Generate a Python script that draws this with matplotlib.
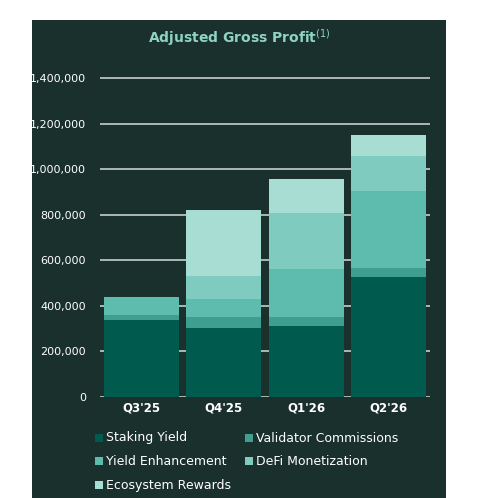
import numpy as np
import matplotlib.pyplot as plt
from matplotlib.patches import Rectangle

quarters = ["Q3'25", "Q4'25", "Q1'26", "Q2'26"]
staking = [338000, 304000, 311000, 526000]
validator = [22000, 48000, 41000, 42000]
yield_enh = [80000, 78000, 212000, 335000]
defi = [0, 103000, 245000, 157000]
ecosystem = [0, 288000, 149000, 92000]

series = [
    ("Staking Yield", staking, "#005a4e"),
    ("Validator Commissions", validator, "#3f9f8f"),
    ("Yield Enhancement", yield_enh, "#5dbcae"),
    ("DeFi Monetization", defi, "#80cbbf"),
    ("Ecosystem Rewards", ecosystem, "#a8ddd3"),
]

W, H = 482, 498
fig = plt.figure(figsize=(W / 100, H / 100), dpi=100)
fig.patch.set_facecolor("white")
bg = "#1a302c"
fig.patches.append(Rectangle((32 / W, 0), (446 - 32) / W, (498 - 20) / H,
                             transform=fig.transFigure, facecolor=bg, zorder=-1))

ax = fig.add_axes([100 / W, 1 - 397 / H, 330 / W, 320 / H])
ax.set_facecolor(bg)
x = np.arange(len(quarters))
bottom = np.zeros(len(quarters))
for name, vals, col in series:
    ax.bar(x, vals, 0.91, bottom=bottom, color=col, zorder=3)
    bottom += np.array(vals)

ax.set_xlim(-0.5, 3.5)
ax.set_ylim(0, 1400000)
ax.set_yticks(np.arange(0, 1400001, 200000))
ax.set_yticklabels([f"{v:,}" for v in range(0, 1400001, 200000)])
ax.yaxis.grid(True, color="#c5cfcb", linewidth=1.2, zorder=1)
ax.set_axisbelow(True)
for s in ax.spines.values():
    s.set_visible(False)
ax.tick_params(length=0, colors="white", labelsize=8)
ax.tick_params(axis="y", pad=10)
ax.set_xticks(x)
ax.set_xticklabels(quarters, fontweight="bold", fontsize=8.5)
ax.set_ylim(0, 1400000 * 1.004)

fig.text(0.5 * (32 + 446) / W, 1 - 38 / H, "Adjusted Gross Profit$^{(1)}$",
         color="#8fd3c5", fontsize=10, fontweight="bold", ha="center", va="center")

pos = [(95, 438), (245, 438), (95, 461), (245, 461), (95, 485)]
for (name, vals, col), (px, py) in zip(series, pos):
    fig.patches.append(Rectangle((px / W, 1 - (py + 4) / H), 8 / W, 8 / H,
                                 transform=fig.transFigure, facecolor=col))
    fig.text((px + 11) / W, 1 - py / H, name, color="white", fontsize=9, va="center")

fig.savefig("out.png", dpi=100, facecolor=fig.get_facecolor())
